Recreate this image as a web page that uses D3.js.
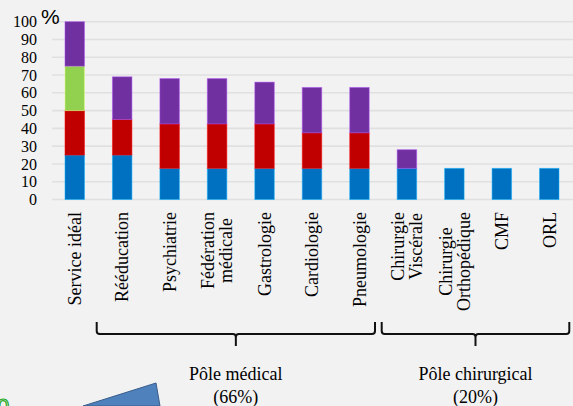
<!DOCTYPE html>
<html>
<head>
<meta charset="utf-8">
<script src="https://cdn.jsdelivr.net/npm/d3@7"></script>
<style>
  body { margin: 0; background: #f2f2f2; }
  svg { display: block; }
</style>
</head>
<body>
<svg id="chart" width="573" height="406"></svg>
<script>
const WIDTH = 573;
const HEIGHT = 406;

// chart data
const categories = [
  ["Service idéal"], ["Rééducation"], ["Psychiatrie"], ["Fédération", "médicale"],
  ["Gastrologie"], ["Cardiologie"], ["Pneumologie"], ["Chirurgie", "Viscérale"],
  ["Chirurgie", "Orthopédique"], ["CMF"], ["ORL"]
];
const blueVals   = [25, 25, 17.5, 17.5, 17.5, 17.5, 17.5, 17.5, 17.5, 17.5, 17.5];
const redVals    = [25, 20, 25, 25, 25, 20, 20, 0, 0, 0, 0];
const greenVals  = [25, 0, 0, 0, 0, 0, 0, 0, 0, 0, 0];
const purpleVals = [25, 24, 25.5, 25.5, 23.5, 25.5, 25.5, 10.5, 0, 0, 0];
const seriesColors = ["#0070c0", "#c00000", "#92d050", "#7030a0"];
const yTicks = [0, 10, 20, 30, 40, 50, 60, 70, 80, 90, 100];

// groups of categories under the braces
const groupNames = ["Pôle médical", "Pôle chirurgical"];
const groupShares = ["(66%)", "(20%)"];
const groupRanges = [[1, 6], [7, 10]]; // first / last category index

const svg = d3.select("#chart");

svg.append("rect").attr("width", WIDTH).attr("height", HEIGHT).attr("fill", "#f2f2f2");

const keys = categories.map((c, i) => i);
const x = d3.scaleBand()
  .domain(keys)
  .range([51, 573])
  .paddingInner(0.59)
  .paddingOuter(0.295);

const y = d3.scaleLinear().domain([0, 100]).range([199.5, 21.7]);

// gridlines
svg.append("g")
  .selectAll("line")
  .data(yTicks)
  .join("line")
  .attr("x1", 52).attr("x2", WIDTH)
  .attr("y1", d => y(d)).attr("y2", d => y(d))
  .attr("stroke", "#e0e0e0")
  .attr("stroke-width", 1.6);

// y axis labels
svg.append("g")
  .selectAll("text")
  .data(yTicks)
  .join("text")
  .attr("x", 37)
  .attr("y", d => y(d))
  .attr("dy", "0.35em")
  .attr("text-anchor", "end")
  .attr("font-family", "Liberation Serif, Times New Roman, serif")
  .attr("font-size", 16)
  .attr("fill", "#000")
  .text(d => d);

svg.append("text")
  .attr("x", 41).attr("y", 24)
  .attr("font-family", "Liberation Sans, Arial, sans-serif")
  .attr("font-size", 21)
  .attr("fill", "#000")
  .text("%");

// stacked bars
const rows = keys.map(i => ({ key: i, s0: blueVals[i], s1: redVals[i], s2: greenVals[i], s3: purpleVals[i] }));
const stack = d3.stack().keys(["s0", "s1", "s2", "s3"]);
const stacked = stack(rows);

svg.append("g")
  .selectAll("g")
  .data(stacked)
  .join("g")
  .attr("fill", (d, i) => seriesColors[i])
  .attr("stroke", (d, i) => d3.color(seriesColors[i]).brighter(1.2))
  .attr("stroke-opacity", 0.5)
  .attr("stroke-width", 1)
  .selectAll("rect")
  .data(d => d.filter(p => p[1] - p[0] > 0))
  .join("rect")
  .attr("x", d => x(d.data.key))
  .attr("width", x.bandwidth())
  .attr("y", d => y(d[1]))
  .attr("height", d => y(d[0]) - y(d[1]));

// category labels (rotated)
const labelFont = "Liberation Serif, Times New Roman, serif";
const labels = svg.append("g")
  .selectAll("g")
  .data(keys)
  .join("g")
  .attr("transform", d => `translate(${x(d) + x.bandwidth() / 2},212) rotate(-90)`);

labels.each(function (d) {
  const g = d3.select(this);
  const lines = categories[d];
  const n = lines.length;
  const ts = lines.map((t, j) => g.append("text")
    .attr("y", (j - (n - 1) / 2) * 18)
    .attr("dy", "0.35em")
    .attr("font-family", labelFont)
    .attr("font-size", 18)
    .attr("fill", "#000")
    .text(t));
  const maxLen = d3.max(ts, t => t.node().getComputedTextLength());
  ts.forEach(t => t.attr("x", -maxLen / 2).attr("text-anchor", "middle"));
});

// braces under the groups
function bracePath(x0, x1) {
  const top = 322, mid = 334, bot = 346, r = 3;
  const cx = (x0 + x1) / 2;
  return `M${x0},${top} L${x0},${mid - r} Q${x0},${mid} ${x0 + r},${mid}` +
    ` L${cx - r},${mid} Q${cx},${mid} ${cx},${mid + r} L${cx},${bot}` +
    ` M${cx},${mid + r} Q${cx},${mid} ${cx + r},${mid} L${x1 - r},${mid}` +
    ` Q${x1},${mid} ${x1},${mid - r} L${x1},${top}`;
}

const braceX0 = [96.7, 381.7];
const braceX1 = [375, 569.3];

const groups = svg.append("g")
  .selectAll("g")
  .data(groupNames)
  .join("g");

groups.append("path")
  .attr("d", (d, i) => bracePath(braceX0[i], braceX1[i]))
  .attr("fill", "none")
  .attr("stroke", "#111")
  .attr("stroke-width", 2);

groups.append("text")
  .attr("x", (d, i) => (braceX0[i] + braceX1[i]) / 2)
  .attr("y", 380)
  .attr("text-anchor", "middle")
  .attr("font-family", labelFont)
  .attr("font-size", 18)
  .text(d => d);

groups.append("text")
  .attr("x", (d, i) => (braceX0[i] + braceX1[i]) / 2)
  .attr("y", 403)
  .attr("text-anchor", "middle")
  .attr("font-family", labelFont)
  .attr("font-size", 18)
  .text((d, i) => groupShares[i]);

// decorations from the slide at the bottom left
svg.append("path")
  .attr("d", "M83,406 L156,383 L160,406 Z")
  .attr("fill", "#4f81bd")
  .attr("stroke", "#385d8a")
  .attr("stroke-width", 1);

svg.append("text")
  .attr("x", -3).attr("y", 414)
  .attr("font-family", "Liberation Sans, Arial, sans-serif")
  .attr("font-size", 22)
  .attr("fill", "none")
  .attr("stroke", "#22aa22")
  .attr("stroke-width", 1.2)
  .text("0");
</script>
</body>
</html>
